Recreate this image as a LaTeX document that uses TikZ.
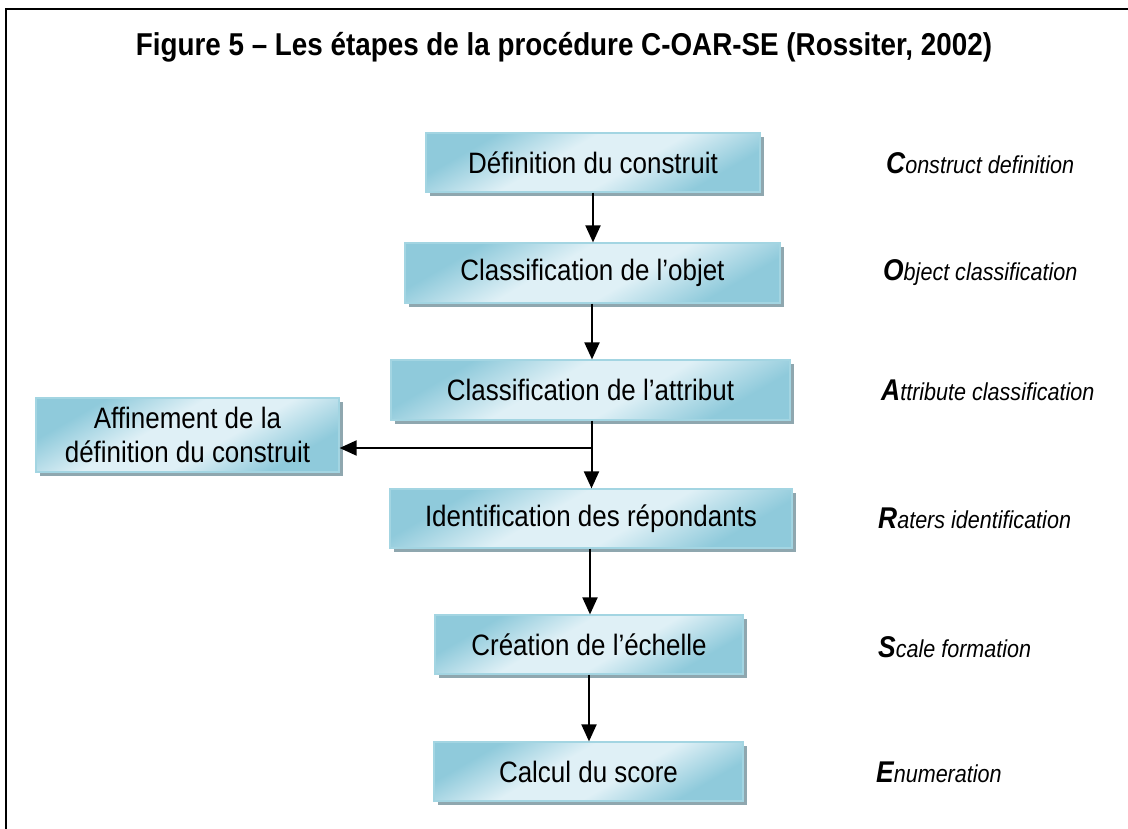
\documentclass[tikz,border=0pt]{standalone}
\usepackage{fontspec}
\setmainfont{Liberation Sans}
\usetikzlibrary{arrows.meta,calc}
\definecolor{boxdark}{HTML}{8FCADB}
\definecolor{boxlight}{HTML}{DFF0F6}
\definecolor{boxline}{HTML}{A3D5E2}
\definecolor{boxshadow}{HTML}{8FA7AF}
\pgfdeclarehorizontalshading{boxshade}{100bp}{color(0bp)=(boxdark); color(27bp)=(boxdark); color(43bp)=(boxlight); color(57bp)=(boxlight); color(73bp)=(boxdark); color(100bp)=(boxdark)}
\newcommand{\nar}[1]{\scalebox{0.88}[1]{#1}}
\tikzset{
  stepbox/.style={draw=boxline, line width=1.2pt, shading=boxshade, shading angle=-60,
    preaction={fill=boxshadow, transform canvas={xshift=4pt, yshift=-4pt}},
    inner sep=0pt, align=center, font=\fontsize{29.5}{34}\selectfont},
  flow/.style={line width=2pt, -{Triangle[width=15pt,length=17pt]}},
  eng/.style={anchor=west, inner sep=0pt, font=\itshape\fontsize{24.5}{28}\selectfont},
  frame/.style={line width=2pt}
}
\newcommand{\Cap}[1]{{\bfseries\fontsize{30}{34}\selectfont #1}}
\begin{document}
\begin{tikzpicture}[x=1pt,y=-1pt]
\useasboundingbox (0,0) rectangle (1128,829);
\coordinate (f0) at (6,9);
\coordinate (f1) at (1128,9);
\coordinate (f2) at (6,829);
\draw[frame] (f2) -- (f0) -- (f1);
\node[font=\bfseries\fontsize{31.6}{36}\selectfont] (title) at (564,47) {\nar{Figure 5 – Les étapes de la procédure C-OAR-SE (Rossiter, 2002)}};

\node[stepbox, minimum width=334pt, minimum height=59pt] (b1) at (593,162.5) {\nar{Définition du construit}};
\node[stepbox, minimum width=375pt, minimum height=60pt] (b2) at (592.5,273) {\nar{Classification de l’objet}};
\node[stepbox, minimum width=399pt, minimum height=60pt] (b3) at (590.5,390) {\nar{Classification de l’attribut}};
\node[stepbox, minimum width=402pt, minimum height=59pt] (b4) at (591,518.5) {\nar{Identification des répondants}};
\node[stepbox, minimum width=308pt, minimum height=59pt] (b5) at (589,644.5) {\nar{Création de l’échelle}};
\node[stepbox, minimum width=309pt, minimum height=59pt] (b6) at (588.5,771.5) {\nar{Calcul du score}};
\node[stepbox, minimum width=303pt, minimum height=74pt] (aff) at (187.5,435) {\nar{Affinement de la}\\\nar{définition du construit}};

\draw[flow] (b1.south) -- (b1.south |- b2.north);
\draw[flow] ([xshift=-0.5pt]b2.south) -- ([xshift=-0.5pt]b2.south |- b3.north);
\draw[flow] ([xshift=1pt]b3.south) -- ([xshift=1pt]b3.south |- b4.north);
\coordinate (j) at (591.5,448);
\draw[flow] (j) -- (j -| aff.east);
\draw[flow] ([xshift=-1pt]b4.south) -- ([xshift=-1pt]b4.south |- b5.north);
\draw[flow] (b5.south) -- (b5.south |- b6.north);

\node[eng] (e1) at (886,163) {\nar{\Cap{C}onstruct definition}};
\node[eng] (e2) at (883,273) {\nar{\Cap{O}bject classification}};
\node[eng] (e3) at (881,390) {\nar{\Cap{A}ttribute classification}};
\node[eng] (e4) at (878,518) {\nar{\Cap{R}aters identification}};
\node[eng] (e5) at (878,647) {\nar{\Cap{S}cale formation}};
\node[eng] (e6) at (876,772) {\nar{\Cap{E}numeration}};
\end{tikzpicture}
\end{document}
